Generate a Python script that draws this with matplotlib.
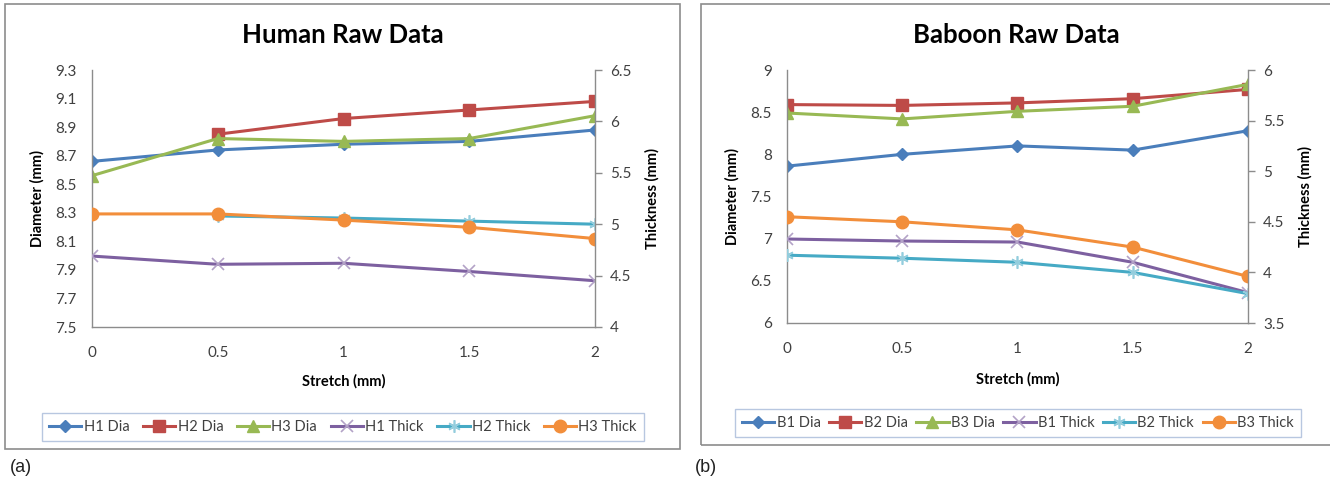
import numpy as np
import matplotlib
matplotlib.use("Agg")
import matplotlib.pyplot as plt
from matplotlib.patches import Rectangle

plt.rcParams['font.family'] = ['Lato', 'DejaVu Sans']

W, H = 1330, 483

stretch = [0, 0.5, 1, 1.5, 2]

# human samples (H2 has no reading at zero stretch)
h1_dia = [8.66, 8.74, 8.78, 8.80, 8.88]
h2_dia = [np.nan, 8.85, 8.96, 9.02, 9.08]
h3_dia = [8.56, 8.82, 8.80, 8.82, 8.98]
h1_thick = [4.69, 4.61, 4.62, 4.54, 4.45]
h2_thick = [np.nan, 5.08, 5.06, 5.03, 5.00]
h3_thick = [5.10, 5.10, 5.04, 4.97, 4.86]

# baboon samples
b1_dia = [7.86, 8.00, 8.10, 8.05, 8.28]
b2_dia = [8.59, 8.58, 8.61, 8.66, 8.77]
b3_dia = [8.49, 8.42, 8.51, 8.57, 8.83]
b1_thick = [4.33, 4.31, 4.30, 4.10, 3.80]
b2_thick = [4.17, 4.14, 4.10, 4.00, 3.79]
b3_thick = [4.55, 4.50, 4.42, 4.25, 3.96]

human_dia_ticks = [7.5, 7.7, 7.9, 8.1, 8.3, 8.5, 8.7, 8.9, 9.1, 9.3]
human_thick_ticks = [4, 4.5, 5, 5.5, 6, 6.5]
baboon_dia_ticks = [6, 6.5, 7, 7.5, 8, 8.5, 9]
baboon_thick_ticks = [3.5, 4, 4.5, 5, 5.5, 6]
x_ticks = [0, 0.5, 1, 1.5, 2]

BLUE, RED, GREEN = '#4A7EBB', '#BE4B48', '#98B954'
PURPLE, CYAN, ORANGE = '#7D60A0', '#46AAC5', '#F28E3B'
GRID = '#8C8C8C'
TXT = '#404040'

styles = [
    dict(color=BLUE, marker='D', ms=6),
    dict(color=RED, marker='s', ms=8),
    dict(color=GREEN, marker='^', ms=8),
    dict(color=PURPLE, marker='x', ms=8, mec='#B3A2C7', mew=1.2),
    dict(color=CYAN, marker=(6, 2, 0), ms=9, mec='#93CDDD', mew=1.2),
    dict(color=ORANGE, marker='o', ms=9),
]


def frac(x0, y0, x1, y1):
    return [x0 / W, 1 - y1 / H, (x1 - x0) / W, (y1 - y0) / H]


def make_panel(fig, box, title, dia, thick, names, dia_ticks, thick_ticks,
               leg_c, col_gap, ylab_x, xlab_y, title_x):
    ax = fig.add_axes(frac(*box))
    ax2 = ax.twinx()
    lines = []
    for vals, st, nm in zip(dia, styles[:3], names[:3]):
        lines += ax.plot(stretch, vals, lw=2.2, label=nm, **st)
    for vals, st, nm in zip(thick, styles[3:], names[3:]):
        lines += ax2.plot(stretch, vals, lw=2.2, label=nm, **st)

    ax.set_xlim(0, 2)
    ax.set_ylim(dia_ticks[0], dia_ticks[-1])
    ax2.set_ylim(thick_ticks[0], thick_ticks[-1])
    ax.set_xticks(x_ticks)
    ax.set_xticklabels(['0', '0.5', '1', '1.5', '2'])
    ax.set_yticks(dia_ticks)
    ax.set_yticklabels([f'{t:g}' for t in dia_ticks])
    ax2.set_yticks(thick_ticks)
    ax2.set_yticklabels([f'{t:g}' for t in thick_ticks])

    for a in (ax, ax2):
        for s in a.spines.values():
            s.set_color(GRID)
            s.set_linewidth(1)
        a.spines['top'].set_visible(False)
        a.patch.set_visible(False)
    ax.spines['right'].set_visible(False)
    ax2.spines['left'].set_visible(False)
    ax2.spines['bottom'].set_visible(False)

    ax.tick_params(axis='y', length=0, pad=11, labelsize=11, labelcolor=TXT)
    ax.tick_params(axis='x', length=0, pad=14, labelsize=11, labelcolor=TXT)
    ax2.tick_params(axis='y', length=5, width=1, color=GRID, pad=6,
                    labelsize=11, labelcolor=TXT)

    ax.text(ylab_x[0], 0.5, 'Diameter (mm)', transform=ax.transAxes,
            rotation=90, ha='center', va='center', fontsize=10.5,
            fontweight='bold', color='black')
    ax.text(ylab_x[1], 0.5, 'Thickness (mm)', transform=ax.transAxes,
            rotation=90, ha='center', va='center', fontsize=10.5,
            fontweight='bold', color='black')
    ax.text(0.5, xlab_y, 'Stretch (mm)', transform=ax.transAxes,
            ha='center', va='center', fontsize=10.5, fontweight='bold',
            color='black')
    fig.text(title_x / W, 1 - 35 / H, title, ha='center', va='center',
             fontsize=18.5, fontweight='bold', color='black')

    leg = fig.legend(handles=lines, loc='center', ncol=6,
                     bbox_to_anchor=(leg_c[0] / W, 1 - leg_c[1] / H),
                     bbox_transform=fig.transFigure, fancybox=False,
                     frameon=True, fontsize=10.5, handlelength=2.2,
                     handletextpad=0.15, columnspacing=col_gap,
                     borderpad=0.5)
    leg.get_frame().set_edgecolor('#A7B9D9')
    leg.get_frame().set_linewidth(1)
    for t in leg.get_texts():
        t.set_color(TXT)
    return ax, ax2


fig = plt.figure(figsize=(W / 100, H / 100), dpi=100)
fig.patch.set_facecolor('white')

fig.patches.append(Rectangle((5 / W, 1 - 449 / H), 675 / W, 445 / H,
                             transform=fig.transFigure, fill=False,
                             edgecolor=GRID, lw=1.2))
fig.patches.append(Rectangle((701 / W, 1 - 445 / H), 640 / W, 441 / H,
                             transform=fig.transFigure, fill=False,
                             edgecolor=GRID, lw=1.2))

make_panel(fig, (92, 70, 595, 327), 'Human Raw Data',
           [h1_dia, h2_dia, h3_dia], [h1_thick, h2_thick, h3_thick],
           ['H1 Dia', 'H2 Dia', 'H3 Dia', 'H1 Thick', 'H2 Thick', 'H3 Thick'],
           human_dia_ticks, human_thick_ticks,
           (343, 427), 0.95, (-0.109, 1.113), -0.21, 343)

make_panel(fig, (787, 70, 1248, 323), 'Baboon Raw Data',
           [b1_dia, b2_dia, b3_dia], [b1_thick, b2_thick, b3_thick],
           ['B1 Dia', 'B2 Dia', 'B3 Dia', 'B1 Thick', 'B2 Thick', 'B3 Thick'],
           baboon_dia_ticks, baboon_thick_ticks,
           (1018, 423), 0.6, (-0.119, 1.124), -0.221, 1016)

fig.text(10 / W, 1 - 467 / H, '(a)', ha='left', va='center', fontsize=13,
         family='Liberation Sans', color='#222222')
fig.text(695 / W, 1 - 467 / H, '(b)', ha='left', va='center', fontsize=13,
         family='Liberation Sans', color='#222222')

fig.savefig('out.png', dpi=100)
